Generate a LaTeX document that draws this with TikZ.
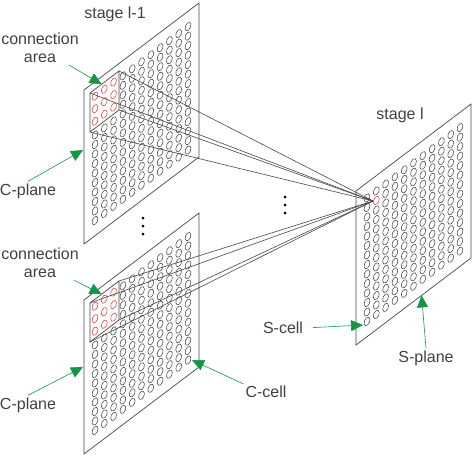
\documentclass[tikz,border=0pt]{standalone}
\usepackage{fontspec}
\setmainfont{Liberation Sans}
\usetikzlibrary{arrows.meta,calc}

\definecolor{linegray}{RGB}{70,70,70}
\definecolor{cellred}{RGB}{230,60,60}
\definecolor{arrowgreen}{RGB}{20,150,70}

\tikzset{
  plane/.style={draw=linegray, line width=0.7pt},
  cell/.style={draw=linegray, line width=0.55pt},
  redcell/.style={draw=cellred, line width=0.55pt},
  conn/.style={draw=linegray, line width=0.6pt},
  pointer/.style={draw=arrowgreen, line width=0.6pt, -{Triangle[length=12pt,width=11pt]}},
  txt/.style={font=\fontsize{16}{18}\selectfont, text=black!75, align=center, inner sep=2pt},
  oval/.style={x radius=2.6pt, y radius=4.4pt, rotate=-22}
}

\begin{document}
\begin{tikzpicture}[x=1pt, y=-1pt]
    \useasboundingbox (0,0) rectangle (473,455);

    % stage l : S-plane
    \begin{scope}[shift={(356,191)}]
      \draw[plane] (0,0) coordinate (sa) -- (115,-87) coordinate (sb)
        -- (115,67) coordinate (sc) -- (0,154) coordinate (sd) -- cycle;
      \foreach \i in {0,...,10}
        \foreach \j in {0,...,13}{
          \pgfmathtruncatemacro\isred{(\i==1)&&(\j==1)}
          \ifnum\isred=0 \draw[cell] (11+9.3*\i, 7-7.04*\i+9.5*\j) circle[oval]; \fi
        }
      \draw[redcell] (20.3, 9.46) circle[oval];
      \coordinate (target) at (17,10);
      \coordinate (tip6) at (7,134);
    \end{scope}

    % stage l-1 : two C-planes with connection areas
    \foreach \n/\y in {1/90, 2/300}{
      \begin{scope}[shift={(84,\y)}]
        \draw[plane] (0,0) coordinate (c\n a) -- (115,-87) coordinate (c\n b)
          -- (115,67) coordinate (c\n c) -- (0,154) coordinate (c\n d) -- cycle;
        \foreach \i in {0,...,10}
          \foreach \j in {0,...,13}{
            \pgfmathtruncatemacro\inbox{(\i<3)&&(\j<4)}
            \ifnum\inbox=0 \draw[cell] (11+9.3*\i, 7-7.04*\i+9.5*\j) circle[oval]; \fi
          }
        \foreach \i in {0,1,2}
          \foreach \j in {0,1,2}
            \draw[redcell] (11+9.3*\i, 6.2-7.04*\i+12.5*\j) circle[oval];
        \draw[plane] (6,3) coordinate (b\n a) -- (35,-19) coordinate (b\n b)
          -- (35,20) coordinate (b\n c) -- (6,42) coordinate (b\n d) -- cycle;
        \coordinate (cc\n) at (108,60.1);
      \end{scope}
    }

    % connections to the S-cell
    \foreach \c in {b1a,b1b,b1c,b1d,b2a,b2b,b2c,b2d}
      \draw[conn] (\c) -- (target);

    % dots
    \foreach \y in {218,226,234}
      \fill[black] (143,\y) circle[radius=1.5pt];
    \foreach \y in {197,205,213}
      \fill[black] (285,\y) circle[radius=1.5pt];

    % labels
    \node[txt] (stage1) at (115,14) {stage l-1};
    \node[txt] (stage2) at (400,115) {stage l};
    \node[txt] (carea1) at (40,48) {connection\\area};
    \node[txt] (carea2) at (40,263) {connection\\area};
    \node[txt] (cplane1) at (28,191) {C-plane};
    \node[txt] (cplane2) at (28,405) {C-plane};
    \node[txt] (ccell) at (266,392) {C-cell};
    \node[txt] (scell) at (283,328) {S-cell};
    \node[txt] (splane) at (426,358) {S-plane};

    \coordinate (tip1) at ($(b1a)!0.4!(b1b)$);
    \coordinate (tip2) at ($(c1a)!0.39!(c1d)+(-1,0)$);
    \coordinate (tip3) at ($(b2a)!0.4!(b2b)$);
    \coordinate (tip4) at ($(c2a)!0.435!(c2d)+(-1,0)$);
    \coordinate (tip7) at ($(sd)!0.57!(sc)$);

    \draw[pointer] (carea1) -- (tip1);
    \draw[pointer] (carea2) -- (tip3);
    \draw[pointer] (cplane1.north) -- (tip2);
    \draw[pointer] (cplane2.north) -- (tip4);
    \draw[pointer] (ccell.north west) -- (cc2);
    \draw[pointer, shorten <=8pt] (scell.east) -- (tip6);
    \draw[pointer] (splane.north) -- (tip7);
\end{tikzpicture}
\end{document}
